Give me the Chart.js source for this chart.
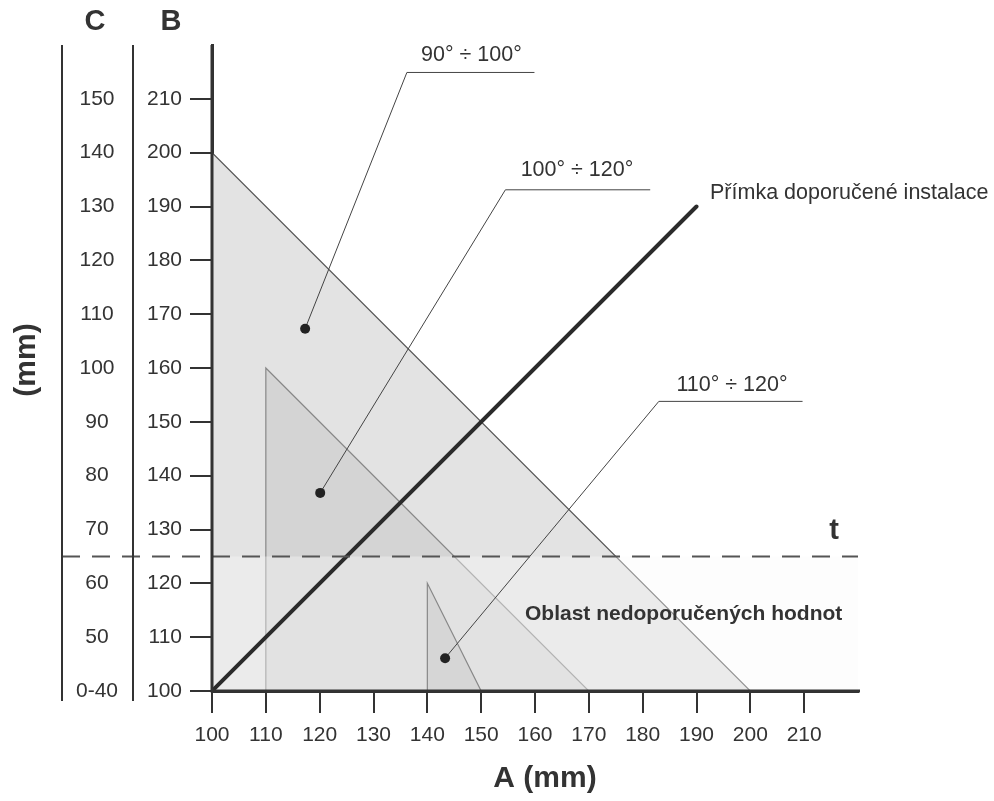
<!DOCTYPE html>
<html>
<head>
<meta charset="utf-8">
<script src="https://cdn.jsdelivr.net/npm/chart.js@4.4.1/dist/chart.umd.min.js"></script>
<style>
  html, body { margin: 0; padding: 0; background: #fff; }
  #wrap { width: 994px; height: 801px; }
</style>
</head>
<body>
<div id="wrap"><canvas id="myChart" width="994" height="801"></canvas></div>
<script>
// axis ticks
var aTicks = [100, 110, 120, 130, 140, 150, 160, 170, 180, 190, 200, 210];
var bTicks = [100, 110, 120, 130, 140, 150, 160, 170, 180, 190, 200, 210];
var cLabels = ['0-40', '50', '60', '70', '80', '90', '100', '110', '120', '130', '140', '150'];

// zones (A, B)
var zone90 = [{x: 100, y: 100}, {x: 100, y: 200}, {x: 200, y: 100}, {x: 100, y: 100}];
var zone100 = [{x: 110, y: 100}, {x: 110, y: 160}, {x: 170, y: 100}, {x: 110, y: 100}];
var zone110 = [{x: 140, y: 100}, {x: 140, y: 120}, {x: 150, y: 100}, {x: 140, y: 100}];
var tLimit = 125;
var notRecommended = [{x: 100, y: 100}, {x: 100, y: 125}, {x: 220, y: 125}, {x: 220, y: 100}, {x: 100, y: 100}];
var installLine = [{x: 100, y: 100}, {x: 190, y: 190}];

// callouts: dot, elbow, end of shelf, label
var calloutLabels = ['90° ÷ 100°', '100° ÷ 120°', '110° ÷ 120°'];
var calloutDots = [{x: 117.3, y: 167.3}, {x: 120.1, y: 136.8}, {x: 143.3, y: 106.1}];
var calloutElbows = [{x: 136.2, y: 214.9}, {x: 154.5, y: 193.1}, {x: 183.0, y: 153.8}];
var calloutEnds = [{x: 159.9, y: 214.9}, {x: 181.4, y: 193.1}, {x: 209.7, y: 153.8}];
var calloutText = [{x: 148.2, y: 218.2}, {x: 167.8, y: 196.8}, {x: 196.6, y: 156.9}];

var FONT = "'Liberation Sans', Arial, Helvetica, sans-serif";
var INK = '#333';

document.addEventListener('DOMContentLoaded', function () {
    var ctx = document.getElementById('myChart').getContext('2d');

    var datasets = [];
    calloutDots.forEach(function (d, i) {
        datasets.push({
            type: 'line',
            data: [d, calloutElbows[i], calloutEnds[i]],
            borderColor: '#444',
            borderWidth: 1,
            pointRadius: [5, 0, 0],
            pointBackgroundColor: '#222',
            pointBorderWidth: 0,
            fill: false,
            order: 1
        });
    });
    datasets.push({ type: 'line', data: installLine, borderColor: '#2b2b2b', borderWidth: 4,
        pointRadius: 0, fill: false, order: 3, borderCapStyle: 'round' });
    datasets.push({ type: 'line', data: zone110, borderColor: '#888', borderWidth: 1.2,
        backgroundColor: '#d6d6d6', pointRadius: 0, fill: 'shape', order: 5 });
    datasets.push({ type: 'line', data: notRecommended, borderWidth: 0, borderColor: 'rgba(0,0,0,0)',
        backgroundColor: 'rgba(250,250,250,0.38)', pointRadius: 0, fill: 'shape', order: 6 });
    datasets.push({ type: 'line', data: zone100, borderColor: '#888', borderWidth: 1.2,
        backgroundColor: '#d4d4d4', pointRadius: 0, fill: 'shape', order: 7 });
    datasets.push({ type: 'line', data: zone90, borderColor: '#555', borderWidth: 1.2,
        backgroundColor: '#e3e3e3', pointRadius: 0, fill: 'shape', order: 8 });

    var extras = {
        id: 'extras',
        afterDatasetsDraw: function (chart) {
            var c = chart.ctx, xs = chart.scales.x, ys = chart.scales.y, area = chart.chartArea;
            c.save();
            // dashed t line
            var ty = ys.getPixelForValue(tLimit);
            c.strokeStyle = '#555';
            c.lineWidth = 2;
            c.setLineDash([18, 12]);
            c.beginPath();
            c.moveTo(62, ty);
            c.lineTo(area.right, ty);
            c.stroke();
            c.setLineDash([]);
            // redraw main axis lines over the fills
            c.strokeStyle = INK;
            c.lineWidth = 3;
            c.beginPath();
            c.moveTo(area.left, area.top);
            c.lineTo(area.left, area.bottom);
            c.lineTo(area.right + 2, area.bottom);
            c.stroke();
            // C / B column lines
            c.lineWidth = 2;
            [62, 133].forEach(function (x) {
                c.beginPath();
                c.moveTo(x, area.top);
                c.lineTo(x, ys.getPixelForValue(100) + 10);
                c.stroke();
            });
            c.fillStyle = INK;
            c.textAlign = 'center';
            c.textBaseline = 'middle';
            c.font = '21px ' + FONT;
            cLabels.forEach(function (l, i) {
                c.fillText(l, 97, ys.getPixelForValue(bTicks[i]));
            });
            c.font = 'bold 29px ' + FONT;
            c.fillText('C', 95, 22);
            c.fillText('B', 171, 22);
            c.fillText('t', 834, 531);
            c.font = 'bold 30px ' + FONT;
            c.fillText('A (mm)', 545, 779);
            c.save();
            c.translate(27, 360);
            c.rotate(-Math.PI / 2);
            c.fillText('(mm)', 0, 0);
            c.restore();
            c.font = '21.5px ' + FONT;
            calloutLabels.forEach(function (l, i) {
                c.fillText(l, xs.getPixelForValue(calloutText[i].x), ys.getPixelForValue(calloutText[i].y));
            });
            c.textAlign = 'left';
            c.fillText('Přímka doporučené instalace', 710, 193);
            c.font = 'bold 21px ' + FONT;
            c.fillText('Oblast nedoporučených hodnot', 525, 614);
            c.restore();
        }
    };

    var myChart = new Chart(ctx, {
        type: 'line',
        data: { datasets: datasets },
        options: {
            responsive: false,
            animation: false,
            layout: { padding: { top: 45, right: 136, left: 0, bottom: 0 } },
            plugins: { legend: { display: false }, tooltip: { enabled: false } },
            scales: {
                x: {
                    type: 'linear', min: 100, max: 220,
                    afterBuildTicks: function (s) { s.ticks = aTicks.map(function (v) { return { value: v }; }); },
                    afterFit: function (s) { s.height = 110; },
                    grid: { drawOnChartArea: false, tickLength: 22, color: INK, lineWidth: 2 },
                    border: { display: true, color: INK, width: 3 },
                    ticks: { color: INK, font: { size: 21, family: FONT }, padding: 10, maxRotation: 0, autoSkip: false }
                },
                y: {
                    type: 'linear', min: 100, max: 220,
                    afterBuildTicks: function (s) { s.ticks = bTicks.map(function (v) { return { value: v }; }); },
                    afterFit: function (s) { s.width = 212; },
                    grid: { drawOnChartArea: false, tickLength: 22, color: INK, lineWidth: 2 },
                    border: { display: true, color: INK, width: 3 },
                    ticks: { color: INK, font: { size: 21, family: FONT }, padding: 8, autoSkip: false }
                }
            }
        },
        plugins: [extras]
    });
});
</script>
</body>
</html>
